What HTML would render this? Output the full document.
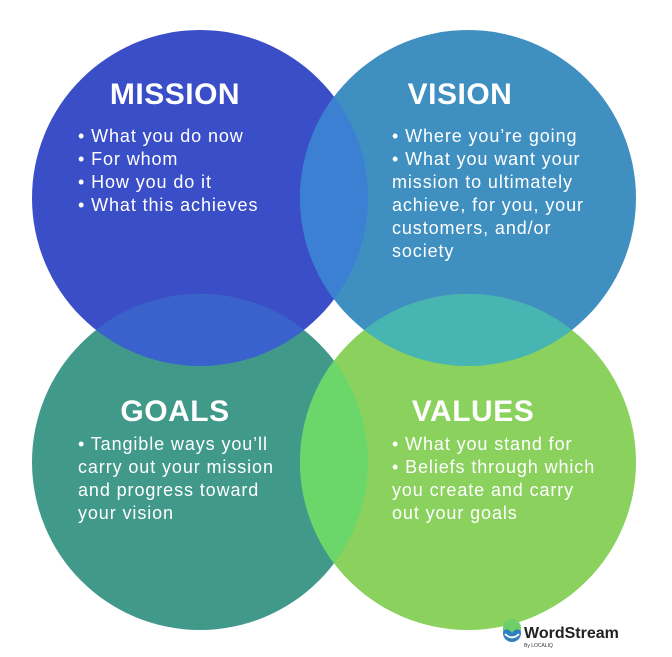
<!DOCTYPE html>
<html><head><meta charset="utf-8"><style>
html,body{margin:0;padding:0;background:#fff;}
svg{display:block}
text{font-family:"Liberation Sans",sans-serif;fill:#fff;}
.t{font-size:30px;font-weight:bold;text-anchor:middle;letter-spacing:0.5px}
.b{font-size:18px;letter-spacing:0.9px}
</style></head><body>
<svg width="672" height="657" viewBox="0 0 672 657">
<defs>
<clipPath id="cm"><circle cx="200" cy="198" r="168"/></clipPath>
<clipPath id="cv"><circle cx="468" cy="198" r="168"/></clipPath>
<clipPath id="cg"><circle cx="200" cy="462" r="168"/></clipPath>
</defs>
<rect width="672" height="657" fill="#fff"/>
<circle cx="200" cy="198" r="168" fill="#3a4ec8"/>
<circle cx="468" cy="198" r="168" fill="#3f8fc0"/>
<circle cx="200" cy="462" r="168" fill="#41998a"/>
<circle cx="468" cy="462" r="168" fill="#8bd15e"/>
<circle cx="468" cy="198" r="168" fill="#3c80d4" clip-path="url(#cm)"/>
<circle cx="200" cy="462" r="168" fill="#3962cc" clip-path="url(#cm)"/>
<circle cx="468" cy="462" r="168" fill="#47b5b2" clip-path="url(#cv)"/>
<circle cx="468" cy="462" r="168" fill="#6bd76a" clip-path="url(#cg)"/>

<text class="t" x="175" y="104">MISSION</text>
<text class="b" x="78" y="142">• What you do now</text>
<text class="b" x="78" y="165">• For whom</text>
<text class="b" x="78" y="188">• How you do it</text>
<text class="b" x="78" y="211">• What this achieves</text>

<text class="t" x="460" y="104">VISION</text>
<text class="b" x="392" y="142">• Where you’re going</text>
<text class="b" x="392" y="165">• What you want your</text>
<text class="b" x="392" y="188">mission to ultimately</text>
<text class="b" x="392" y="211">achieve, for you, your</text>
<text class="b" x="392" y="234">customers, and/or</text>
<text class="b" x="392" y="257">society</text>

<text class="t" x="175" y="421">GOALS</text>
<text class="b" x="78" y="450">• Tangible ways you’ll</text>
<text class="b" x="78" y="473">carry out your mission</text>
<text class="b" x="78" y="496">and progress toward</text>
<text class="b" x="78" y="519">your vision</text>

<text class="t" x="473" y="421">VALUES</text>
<text class="b" x="392" y="450">• What you stand for</text>
<text class="b" x="392" y="473">• Beliefs through which</text>
<text class="b" x="392" y="496">you create and carry</text>
<text class="b" x="392" y="519">out your goals</text>

<circle cx="512" cy="633" r="9" fill="#2f7fc0"/>
<path d="M503 631 Q508 627 512 633 Q516 627 521 631 L521 628 A9 9 0 0 0 503 628Z" fill="#6ccf6a"/>
<path d="M505 634 Q512 641 519 634" stroke="#fff" stroke-width="1.8" fill="none"/>
<text x="524" y="638" style="font-size:16px;font-weight:bold;fill:#222">WordStream</text>
<text x="524" y="647" style="font-size:5px;fill:#333">By LOCALIQ</text>
</svg>
</body></html>
